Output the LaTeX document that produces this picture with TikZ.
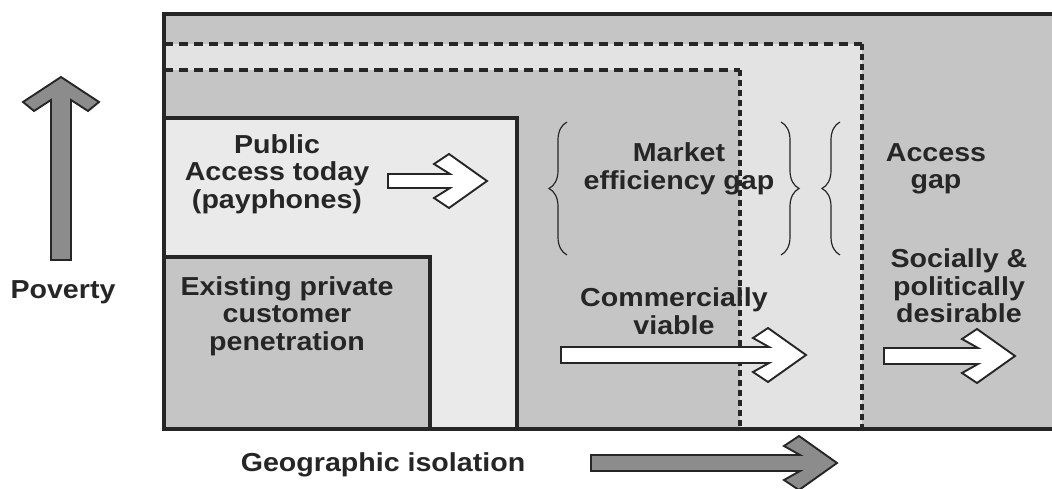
\documentclass[tikz,border=0pt]{standalone}
\usepackage{fontspec}
\setmainfont{Liberation Sans}[FakeStretch=1.1]
\usetikzlibrary{decorations.pathreplacing}

\definecolor{zonedark}{HTML}{C5C5C5}
\definecolor{zonelight}{HTML}{E3E3E3}
\definecolor{boxlight}{HTML}{EAEAEA}
\definecolor{ink}{HTML}{262626}
\definecolor{arrowgray}{HTML}{8C8C8C}

% horizontal block arrow with a chevron head:
% #1 style, #2 tail x, #3 tip x, #4 centre y, #5 shaft half-width
\newcommand\chevarrow[5]{%
  \draw[#1] (#2,#4-#5) -- (#3-37,#4-#5) -- (#3-53,#4-17) -- (#3-38,#4-27)
    -- (#3,#4) -- (#3-38,#4+27) -- (#3-53,#4+17) -- (#3-37,#4+#5)
    -- (#2,#4+#5) -- cycle;}

\tikzset{
  frameline/.style={line width=3.3pt, draw=ink, line join=miter},
  hdash/.style={line width=3.6pt, draw=ink, dash pattern=on 9pt off 6pt},
  vdash/.style={line width=3.8pt, draw=ink, dash pattern=on 6pt off 4pt},
  blockarrow/.style={draw=ink, line width=1.9pt, fill=white, line join=miter},
  axisarrow/.style={blockarrow, fill=arrowgray},
  gapbrace/.style={decorate, decoration={brace, amplitude=18pt}, draw=ink, line width=1.2pt},
  label/.style={font=\fontsize{26}{27.5}\selectfont\bfseries, text=ink, align=center, inner sep=0pt},
}

\begin{document}
\begin{tikzpicture}[x=1pt, y=-1pt]
\useasboundingbox (0,0) rectangle (1052,489);
\clip (0,0) rectangle (1052,489);

% outer field
\fill[zonedark] (164,14) rectangle (1060,429);
% access zone (socially & politically desirable limit)
\fill[zonelight] (164,44) rectangle (862,429);
% commercially viable zone
\fill[zonedark] (164,70) rectangle (740,429);
\draw[hdash] (164,44) -- (862,44);
\draw[vdash] (862,44) -- (862,429);
\draw[hdash] (164,70) -- (740,70);
\draw[vdash] (740,70) -- (740,429);

% public access and private penetration boxes
\draw[frameline, fill=boxlight] (164,429) -- (164,118) -- (517,118) -- (517,429);
\draw[frameline, fill=zonedark] (164,429) -- (164,257) -- (430,257) -- (430,429);

% outer frame
\draw[frameline] (1060,14) -- (164,14) -- (164,429) -- (1060,429);

% braces
\draw[gapbrace] (567,255) -- (567,122);
\draw[gapbrace] (781,122) -- (781,255);
\draw[gapbrace] (840,255) -- (840,122);

% arrows
\chevarrow{blockarrow}{388}{487}{181}{7}
\chevarrow{blockarrow}{561}{806}{355}{8}
\chevarrow{blockarrow}{884}{1015}{356}{8}
\chevarrow{axisarrow}{591}{837}{463}{8}
\draw[axisarrow] (51,260) -- (51,100) -- (34,111) -- (23,102) -- (61,77)
  -- (99,102) -- (88,111) -- (71,100) -- (71,260) -- cycle;

% labels
\node[label] (public) at (277,174) {Public\\Access today\\(payphones)};
\node[label] (private) at (287,316) {Existing private\\customer\\penetration};
\node[label] (market) at (679,169) {Market\\efficiency gap};
\node[label] (access) at (936,169) {Access\\gap};
\node[label] (viable) at (674,311) {Commercially\\viable};
\node[label] (social) at (959,286) {Socially \&\\politically\\desirable};
\node[label] (poverty) at (63,292) {Poverty};
\node[label] (geo) at (383,465) {Geographic isolation};
\end{tikzpicture}
\end{document}
